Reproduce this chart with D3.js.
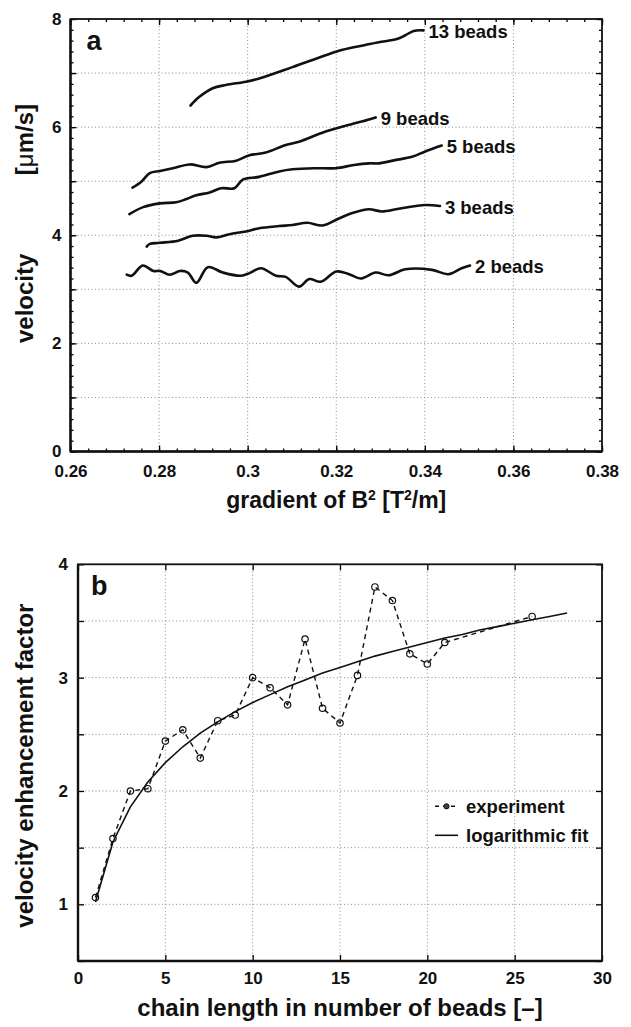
<!DOCTYPE html>
<html>
<head>
<meta charset="utf-8">
<script src="https://cdn.jsdelivr.net/npm/d3@7"></script>
<style>
  body { margin: 0; background: #fff; }
  svg { display: block; }
</style>
</head>
<body>
<div id="chart"></div>
<script>
// panel a: velocity vs gradient of B^2, one curve per chain length
const gradTicks = [0.26, 0.28, 0.30, 0.32, 0.34, 0.36, 0.38];
const gradTickLabels = ["0.26", "0.28", "0.3", "0.32", "0.34", "0.36", "0.38"];
const velTicks = [0, 1, 2, 3, 4, 5, 6, 7, 8];
const velTickLabels = ["0", "", "2", "", "4", "", "6", "", "8"];

const beads2 = [[0.2727,3.27],[0.2738,3.25],[0.2763,3.44],[0.2787,3.34],[0.2802,3.34],[0.2824,3.27],[0.2847,3.34],[0.2865,3.31],[0.2884,3.12],[0.2910,3.41],[0.2944,3.31],[0.2985,3.25],[0.3004,3.30],[0.3030,3.39],[0.3064,3.25],[0.3086,3.23],[0.3116,3.05],[0.3139,3.19],[0.3165,3.14],[0.3200,3.33],[0.3229,3.28],[0.3255,3.20],[0.3289,3.31],[0.3318,3.26],[0.3356,3.37],[0.3416,3.36],[0.3453,3.28],[0.3483,3.39],[0.3502,3.44]];
const beads3 = [[0.2772,3.79],[0.2779,3.84],[0.2802,3.86],[0.2843,3.90],[0.2876,3.99],[0.2907,3.99],[0.2929,3.96],[0.2959,4.02],[0.2996,4.07],[0.3026,4.13],[0.3071,4.17],[0.3101,4.19],[0.3135,4.23],[0.3169,4.18],[0.3206,4.31],[0.3236,4.41],[0.3274,4.48],[0.3303,4.44],[0.3341,4.49],[0.3401,4.56],[0.3434,4.54]];
const beads5 = [[0.2733,4.39],[0.2764,4.52],[0.2802,4.59],[0.2839,4.61],[0.2862,4.67],[0.2884,4.74],[0.2914,4.79],[0.2940,4.87],[0.2970,4.87],[0.2989,5.03],[0.3026,5.08],[0.3071,5.18],[0.3101,5.22],[0.3150,5.24],[0.3199,5.24],[0.3240,5.30],[0.3274,5.33],[0.3296,5.33],[0.3333,5.39],[0.3371,5.45],[0.3401,5.55],[0.3438,5.66]];
const beads9 = [[0.2740,4.88],[0.2760,4.99],[0.2779,5.15],[0.2802,5.19],[0.2831,5.24],[0.2869,5.31],[0.2907,5.26],[0.2936,5.34],[0.2974,5.38],[0.3004,5.48],[0.3041,5.53],[0.3086,5.67],[0.3116,5.73],[0.3176,5.92],[0.3236,6.06],[0.3260,6.11],[0.3289,6.18]];
const beads13 = [[0.2871,6.40],[0.2891,6.56],[0.2921,6.72],[0.2951,6.78],[0.2996,6.84],[0.3026,6.90],[0.3101,7.11],[0.3176,7.33],[0.3214,7.43],[0.3266,7.52],[0.3296,7.57],[0.3337,7.63],[0.3356,7.70],[0.3375,7.78],[0.3397,7.79]];
const beadSeries = [beads2, beads3, beads5, beads9, beads13];
const beadLabels = ["2 beads", "3 beads", "5 beads", "9 beads", "13 beads"];

// panel b: enhancement factor vs chain length
const chainTicks = [0, 5, 10, 15, 20, 25, 30];
const factorTicks = [0.5, 1, 1.5, 2, 2.5, 3, 3.5, 4];
const factorTickLabels = ["", "1", "", "2", "", "3", "", "4"];
const chainLength = [1, 2, 3, 4, 5, 6, 7, 8, 9, 10, 11, 12, 13, 14, 15, 16, 17, 18, 19, 20, 21, 26];
const enhancement = [1.06, 1.58, 2.00, 2.02, 2.44, 2.54, 2.29, 2.62, 2.67, 3.00, 2.91, 2.76, 3.34, 2.73, 2.60, 3.02, 3.80, 3.68, 3.21, 3.12, 3.31, 3.54];
const fitLength = [1, 2, 3, 4, 5, 6, 7, 8, 9, 10, 11, 12, 13, 14, 15, 16, 17, 18, 19, 20, 21, 22, 23, 24, 25, 26, 27, 28];
const fitValues = [1.02, 1.55, 1.86, 2.08, 2.25, 2.39, 2.51, 2.61, 2.70, 2.78, 2.85, 2.92, 2.98, 3.04, 3.09, 3.14, 3.19, 3.23, 3.27, 3.31, 3.35, 3.38, 3.42, 3.45, 3.48, 3.51, 3.54, 3.57];
const legendLabels = ["experiment", "logarithmic fit"];

const FONT = "'Liberation Sans', Arial, Helvetica, sans-serif";
const TICK_FONT = 17;

const svg = d3.select("#chart").append("svg")
    .attr("width", 631)
    .attr("height", 1027)
    .style("font-family", FONT)
    .style("font-weight", "bold");

function styleAxis(g) {
    g.select(".domain").remove();
    g.selectAll("line").attr("stroke", "#000").attr("stroke-width", 1.3);
    g.selectAll("text")
        .attr("font-family", FONT)
        .attr("font-weight", "bold")
        .attr("font-size", TICK_FONT)
        .attr("fill", "#111");
}

function drawFrame(g, box) {
    // dotted grid is drawn first, the box goes on top
    g.append("rect")
        .attr("x", box.left).attr("y", box.top)
        .attr("width", box.right - box.left)
        .attr("height", box.bottom - box.top)
        .attr("fill", "none")
        .attr("stroke", "#111")
        .attr("stroke-width", 1.8);
    g.append("line")
        .attr("x1", box.left).attr("x2", box.right)
        .attr("y1", box.bottom).attr("y2", box.bottom)
        .attr("stroke", "#111").attr("stroke-width", 2.6);
    g.append("line")
        .attr("x1", box.left).attr("x2", box.left)
        .attr("y1", box.top).attr("y2", box.bottom)
        .attr("stroke", "#111").attr("stroke-width", 2.4);
}

function drawGrid(g, x, y, xs, ys, box) {
    g.selectAll(null).data(xs).enter().append("line")
        .attr("x1", d => x(d)).attr("x2", d => x(d))
        .attr("y1", box.top).attr("y2", box.bottom)
        .attr("stroke", "#8c8c8c").attr("stroke-width", 1)
        .attr("stroke-dasharray", "1,2.5");
    g.selectAll(null).data(ys).enter().append("line")
        .attr("x1", box.left).attr("x2", box.right)
        .attr("y1", d => y(d)).attr("y2", d => y(d))
        .attr("stroke", "#8c8c8c").attr("stroke-width", 1)
        .attr("stroke-dasharray", "1,2.5");
}

// ---------- panel a ----------
const A = { left: 70.5, right: 602, top: 19, bottom: 451.5 };
const xA = d3.scaleLinear().domain([0.26, 0.38]).range([A.left, A.right]);
const yA = d3.scaleLinear().domain([0, 8]).range([A.bottom, A.top]);
const gA = svg.append("g");

drawGrid(gA, xA, yA, gradTicks.slice(1, -1), velTicks.slice(1, -1), A);

const gradMinor = d3.range(0.26, 0.3801, 0.004);
const velMinor = d3.range(0, 8.001, 0.2);

gA.append("g").attr("transform", `translate(0,${A.bottom})`)
    .call(d3.axisBottom(xA).tickValues(gradMinor).tickSize(-3).tickFormat(""))
    .call(styleAxis);
gA.append("g").attr("transform", `translate(0,${A.bottom})`)
    .call(d3.axisBottom(xA).tickValues(gradTicks).tickSize(-6).tickPadding(13)
        .tickFormat((d, i) => gradTickLabels[i]))
    .call(styleAxis);
gA.append("g").attr("transform", `translate(0,${A.top})`)
    .call(d3.axisTop(xA).tickValues(gradMinor).tickSize(-3).tickFormat(""))
    .call(styleAxis);
gA.append("g").attr("transform", `translate(0,${A.top})`)
    .call(d3.axisTop(xA).tickValues(gradTicks).tickSize(-6).tickFormat(""))
    .call(styleAxis);
gA.append("g").attr("transform", `translate(${A.left},0)`)
    .call(d3.axisLeft(yA).tickValues(velMinor).tickSize(-3).tickFormat(""))
    .call(styleAxis);
gA.append("g").attr("transform", `translate(${A.left},0)`)
    .call(d3.axisLeft(yA).tickValues(velTicks).tickSize(-6).tickPadding(9)
        .tickFormat((d, i) => velTickLabels[i]))
    .call(styleAxis);
gA.append("g").attr("transform", `translate(${A.right},0)`)
    .call(d3.axisRight(yA).tickValues(velMinor).tickSize(-3).tickFormat(""))
    .call(styleAxis);
gA.append("g").attr("transform", `translate(${A.right},0)`)
    .call(d3.axisRight(yA).tickValues(velTicks).tickSize(-6).tickFormat(""))
    .call(styleAxis);

drawFrame(gA, A);

const beadLine = d3.line()
    .x(d => xA(d[0]))
    .y(d => yA(d[1]))
    .curve(d3.curveCatmullRom.alpha(0.5));

gA.selectAll(".bead-curve")
    .data(beadSeries)
    .enter().append("path")
    .attr("class", "bead-curve")
    .attr("d", beadLine)
    .attr("fill", "none")
    .attr("stroke", "#111")
    .attr("stroke-width", 2.6)
    .attr("stroke-linejoin", "round")
    .attr("stroke-linecap", "round");

gA.selectAll(".bead-label")
    .data(beadSeries)
    .enter().append("text")
    .attr("class", "bead-label")
    .attr("x", d => xA(d[d.length - 1][0]) + 5)
    .attr("y", d => yA(d[d.length - 1][1]) + 1)
    .attr("dy", "0.36em")
    .attr("font-size", 18.5)
    .attr("fill", "#111")
    .text((d, i) => beadLabels[i]);

gA.append("text")
    .attr("x", A.left + 16).attr("y", A.top + 31)
    .attr("font-size", 27)
    .attr("fill", "#111")
    .text("a");

// axis titles for panel a
const xTitleA = gA.append("text")
    .attr("x", (A.left + A.right) / 2).attr("y", 508)
    .attr("text-anchor", "middle")
    .attr("font-size", 23)
    .attr("fill", "#111");
xTitleA.append("tspan").text("gradient of B");
xTitleA.append("tspan").attr("font-size", 14).attr("dy", -8).text("2");
xTitleA.append("tspan").attr("dy", 8).text(" [T");
xTitleA.append("tspan").attr("font-size", 14).attr("dy", -8).text("2");
xTitleA.append("tspan").attr("dy", 8).text("/m]");

gA.append("text")
    .attr("transform", `translate(33,343) rotate(-90)`)
    .attr("font-size", 24)
    .attr("fill", "#111")
    .text("velocity");
const unitA = gA.append("text")
    .attr("transform", `translate(33,104) rotate(-90)`)
    .attr("text-anchor", "end")
    .attr("font-size", 24)
    .attr("fill", "#111");
unitA.append("tspan").text("[");
unitA.append("tspan").attr("font-weight", "normal").text("μ");
unitA.append("tspan").text("m/s]");

// ---------- panel b ----------
const B = { left: 78, right: 602, top: 564.3, bottom: 961 };
const xB = d3.scaleLinear().domain([0, 30]).range([B.left, B.right]);
const yB = d3.scaleLinear().domain([0.5, 4]).range([B.bottom, B.top]);
const gB = svg.append("g");

drawGrid(gB, xB, yB, chainTicks.slice(1, -1), factorTicks.slice(1, -1), B);

gB.append("g").attr("transform", `translate(0,${B.bottom})`)
    .call(d3.axisBottom(xB).tickValues(chainTicks).tickSize(-6).tickPadding(11)
        .tickFormat(d => d))
    .call(styleAxis);
gB.append("g").attr("transform", `translate(0,${B.top})`)
    .call(d3.axisTop(xB).tickValues(chainTicks).tickSize(-6).tickFormat(""))
    .call(styleAxis);
gB.append("g").attr("transform", `translate(${B.left},0)`)
    .call(d3.axisLeft(yB).tickValues(factorTicks).tickSize(-6).tickPadding(10)
        .tickFormat((d, i) => factorTickLabels[i]))
    .call(styleAxis);
gB.append("g").attr("transform", `translate(${B.right},0)`)
    .call(d3.axisRight(yB).tickValues(factorTicks).tickSize(-6).tickFormat(""))
    .call(styleAxis);

drawFrame(gB, B);

const fitLine = d3.line()
    .x((d, i) => xB(fitLength[i]))
    .y(d => yB(d));

gB.append("path")
    .datum(fitValues)
    .attr("d", fitLine)
    .attr("fill", "none")
    .attr("stroke", "#111")
    .attr("stroke-width", 1.6);

const expLine = d3.line()
    .x((d, i) => xB(chainLength[i]))
    .y(d => yB(d));

gB.append("path")
    .datum(enhancement)
    .attr("d", expLine)
    .attr("fill", "none")
    .attr("stroke", "#111")
    .attr("stroke-width", 1.4)
    .attr("stroke-dasharray", "5,4");

gB.selectAll(".exp-dot")
    .data(enhancement)
    .enter().append("circle")
    .attr("class", "exp-dot")
    .attr("cx", (d, i) => xB(chainLength[i]))
    .attr("cy", d => yB(d))
    .attr("r", 3.2)
    .attr("fill", "none")
    .attr("stroke", "#111")
    .attr("stroke-width", 1.2);

gB.append("text")
    .attr("x", B.left + 13).attr("y", B.top + 31)
    .attr("font-size", 27)
    .attr("fill", "#111")
    .text("b");

// legend, no box
const legend = gB.append("g").attr("transform", `translate(${B.left + 357},${B.top + 242})`);
legend.append("line")
    .attr("x1", 0).attr("x2", 23).attr("y1", 0).attr("y2", 0)
    .attr("stroke", "#111").attr("stroke-width", 1.4)
    .attr("stroke-dasharray", "4,4");
legend.append("circle")
    .attr("cx", 11.5).attr("cy", 0).attr("r", 2.6)
    .attr("fill", "#444").attr("stroke", "#111").attr("stroke-width", 1);
legend.append("line")
    .attr("x1", 0).attr("x2", 23).attr("y1", 29).attr("y2", 29)
    .attr("stroke", "#111").attr("stroke-width", 1.6);
legend.selectAll(".legend-text")
    .data(legendLabels)
    .enter().append("text")
    .attr("class", "legend-text")
    .attr("x", 31)
    .attr("y", (d, i) => i * 29)
    .attr("dy", "0.36em")
    .attr("font-size", 18.5)
    .attr("fill", "#111")
    .text(d => d);

gB.append("text")
    .attr("x", (B.left + B.right) / 2).attr("y", 1016)
    .attr("text-anchor", "middle")
    .attr("font-size", 24)
    .attr("fill", "#111")
    .text("chain length in number of beads [–]");

gB.append("text")
    .attr("transform", `translate(33,${(B.top + B.bottom) / 2 + 3}) rotate(-90)`)
    .attr("text-anchor", "middle")
    .attr("font-size", 24)
    .attr("fill", "#111")
    .text("velocity enhancement factor");
</script>
</body>
</html>
